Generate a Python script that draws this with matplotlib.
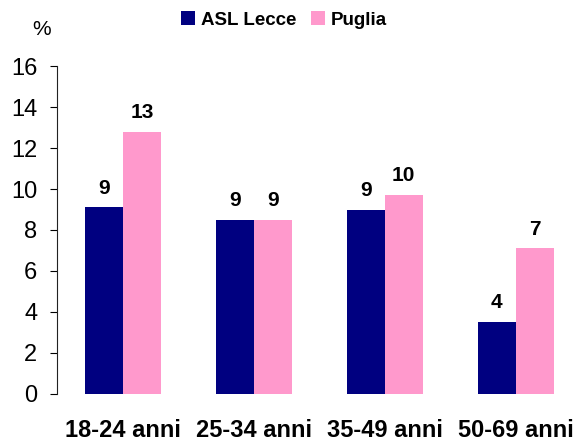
import numpy as np
import matplotlib
matplotlib.use("Agg")
import matplotlib.pyplot as plt

plt.rcParams['font.family'] = ['Liberation Sans', 'DejaVu Sans']

categories = ["18-24 anni", "25-34 anni", "35-49 anni", "50-69 anni"]
asl_lecce = [9.1, 8.5, 9.0, 3.5]
puglia = [12.8, 8.5, 9.7, 7.1]
series_names = ["ASL Lecce", "Puglia"]
colors = ["#000080", "#FF99CC"]

fig = plt.figure(figsize=(5.87, 4.41), dpi=100)
ax = fig.add_axes([0.097, 0.107, 0.893, 0.743])

x = np.arange(len(categories))
w = 0.29
b1 = ax.bar(x - w / 2, asl_lecce, w, color=colors[0], label=series_names[0])
b2 = ax.bar(x + w / 2, puglia, w, color=colors[1], label=series_names[1])

for bars, vals in [(b1, asl_lecce), (b2, puglia)]:
    for rect, v in zip(bars, vals):
        ax.annotate(str(int(v + 0.5)), (rect.get_x() + rect.get_width() / 2, v),
                    xytext=(0, 7), textcoords="offset points",
                    ha="center", va="bottom", fontsize=15, fontweight="bold")

ax.set_ylim(0, 16)
ax.set_yticks(range(0, 17, 2))
ax.set_xlim(-0.504, 3.5)
ax.set_xticks(x)
ax.set_xticklabels(categories, fontsize=17, fontweight="bold")
ax.tick_params(axis="x", length=0, pad=18)
ax.tick_params(axis="y", labelsize=17, length=5, direction="out", pad=9)

for s in ["top", "right", "bottom"]:
    ax.spines[s].set_visible(False)
ax.spines["left"].set_color("#222222")

fig.text(0.070, 0.934, "%", fontsize=15, ha="center", va="center")

fig.legend(loc="center", bbox_to_anchor=(0.484, 0.955), ncol=2, frameon=False,
           prop={"size": 13.5, "weight": "bold"}, handlelength=0.75, handleheight=0.75,
           handletextpad=0.3, columnspacing=0.8)

fig.savefig("out.png", dpi=100)
